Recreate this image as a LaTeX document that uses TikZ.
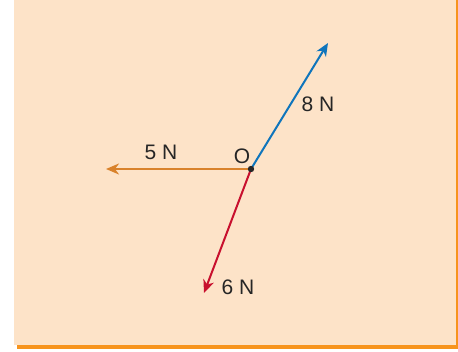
\documentclass[tikz,border=0pt]{standalone}
\usepackage{fontspec}
\setmainfont{Liberation Sans}
\usetikzlibrary{arrows.meta}
\definecolor{bg}{HTML}{FDE3C8}
\definecolor{shadow}{HTML}{F7941D}
\definecolor{cblue}{HTML}{0F75BC}
\definecolor{corange}{HTML}{D9822B}
\definecolor{cred}{HTML}{C8102E}
\tikzset{
  force/.style={line width=2pt,-{Stealth[length=13pt,width=11pt,inset=4pt]}},
  lbl/.style={font=\fontsize{21}{21}\selectfont,text=black!85,inner sep=0pt}
}
\begin{document}
\begin{tikzpicture}[x=1pt,y=-1pt]
\useasboundingbox (0,0) rectangle (458,352);
\fill[shadow] (17,0) rectangle (457.5,349);
\fill[bg] (14,0) rectangle (456,345);
\coordinate (O) at (251,169);
\coordinate (A) at (328,43);
\coordinate (B) at (106,169);
\coordinate (C) at (204,293);
\draw[force,cblue] (O) -- (A);
\draw[force,corange] (O) -- (B);
\draw[force,cred] (O) -- (C);
\fill[black!85] (O) circle (3.2);
\node[lbl] (l8) at (318,104) {8 N};
\node[lbl] (l5) at (161,152) {5 N};
\node[lbl] (lO) at (242,156) {O};
\node[lbl] (l6) at (238,287) {6 N};
\end{tikzpicture}
\end{document}
